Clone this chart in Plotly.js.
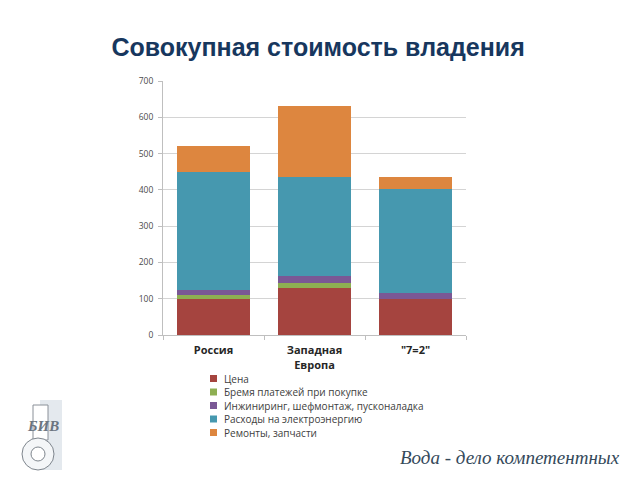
<!DOCTYPE html>
<html>
<head>
<meta charset="utf-8">
<script src="https://cdn.plot.ly/plotly-3.0.1.min.js"></script>
<style>html,body{margin:0;padding:0;background:#fff;}#chart{width:640px;height:480px;}</style>
</head>
<body>
<div id="chart"></div>
<script>
const categories = ["Россия", "Западная<br>Европа", "\"7=2\""];
const seriesNames = ["Цена", "Бремя платежей при покупке", "Инжиниринг, шефмонтаж, пусконаладка", "Расходы на электроэнергию", "Ремонты, запчасти"];
const price = [100, 130, 100];
const burden = [10, 14, 0];
const engineering = [15, 19, 17];
const electricity = [325, 272, 286];
const repairs = [70, 195, 32];
const colors = ["#A5443F", "#8EAF52", "#7A5895", "#4698AF", "#DD863F"];
const yTicks = [0, 100, 200, 300, 400, 500, 600, 700];

const values = [price, burden, engineering, electricity, repairs];
const traces = values.map((v, i) => ({
  type: "bar",
  x: categories,
  y: v,
  name: seriesNames[i],
  marker: {color: colors[i], line: {width: 0}},
  hoverinfo: "name+y"
}));

const PL = 163, PR = 466, PT = 81, PB = 335;
const px = x => (x - PL) / (PR - PL);
const py = y => (PB - y) / (PB - PT);

const SANS = "Open Sans, Liberation Sans, Arial, sans-serif";

// custom compact legend (Excel style): square + label per series
const LEG_X = 210, LEG_Y0 = 378.5, LEG_DY = 13.5, SQ = 7;
const legendAnnotations = seriesNames.map((n, i) => ({
  text: n, xref: "paper", yref: "paper",
  x: px(LEG_X + SQ + 5), y: py(LEG_Y0 + i * LEG_DY), xanchor: "left", yanchor: "middle",
  align: "left", showarrow: false,
  font: {size: 10, color: "#404040", family: SANS}
}));
const legendShapes = seriesNames.map((n, i) => ({
  type: "rect", xref: "paper", yref: "paper",
  x0: px(LEG_X), x1: px(LEG_X + SQ),
  y0: py(LEG_Y0 + i * LEG_DY + SQ / 2), y1: py(LEG_Y0 + i * LEG_DY - SQ / 2),
  fillcolor: colors[i], line: {width: 0}
}));

const layout = {
  width: 640, height: 480,
  margin: {l: PL, r: 640 - PR, t: PT, b: 480 - PB},
  paper_bgcolor: "#ffffff",
  plot_bgcolor: "#ffffff",
  barmode: "stack",
  bargap: 0.285,
  showlegend: false,
  font: {family: SANS, color: "#404040"},
  title: {
    text: "<b>Совокупная стоимость владения</b>",
    x: 0.497, xref: "container", xanchor: "center",
    y: 1 - 47 / 480, yanchor: "middle", yref: "container",
    font: {family: "Liberation Sans, Arial, sans-serif", size: 25, color: "#17375E"}
  },
  xaxis: {
    type: "category",
    showgrid: false,
    showline: true, linecolor: "#BFBFBF", linewidth: 1,
    ticks: "outside", tickson: "boundaries", ticklen: 4, tickcolor: "#BFBFBF",
    ticklabelstandoff: 5,
    tickfont: {size: 11, color: "#262626", family: SANS, weight: "bold"},
    fixedrange: true
  },
  yaxis: {
    range: [0, 700],
    tickvals: yTicks,
    ticktext: yTicks.map(String),
    showgrid: true, gridcolor: "#D4D4D4", gridwidth: 1,
    showline: true, linecolor: "#BFBFBF", linewidth: 1,
    ticks: "outside", ticklen: 4, tickcolor: "#BFBFBF",
    ticklabelstandoff: 3,
    tickfont: {size: 8.5, color: "#4A4A4A", family: SANS},
    zeroline: false,
    fixedrange: true
  },
  annotations: legendAnnotations.concat([
    {
      text: "Вода - дело компетентных", xref: "paper", yref: "paper",
      x: px(510), y: py(457), xanchor: "center", yanchor: "middle",
      showarrow: false,
      font: {size: 19, color: "#34495A", family: "Liberation Serif, serif", style: "italic"}
    },
    {
      text: "<i><b>БИВ</b></i>", xref: "paper", yref: "paper",
      x: px(43), y: py(426), xanchor: "center", yanchor: "middle",
      showarrow: false,
      font: {size: 15, color: "#6B7580", family: "Liberation Serif, serif"}
    }
  ]),
  shapes: legendShapes.concat([
    {type: "rect", xref: "paper", yref: "paper", x0: px(40), x1: px(62), y0: py(470), y1: py(400),
     fillcolor: "#E4E9EE", line: {width: 0}, layer: "below"},
    {type: "rect", xref: "paper", yref: "paper", x0: px(33), x1: px(48), y0: py(440), y1: py(405),
     fillcolor: "#ffffff", line: {color: "#8A9098", width: 1}},
    {type: "circle", xref: "paper", yref: "paper", x0: px(22), x1: px(54), y0: py(470), y1: py(438),
     fillcolor: "#F4F6F8", line: {color: "#7E858D", width: 1}},
    {type: "circle", xref: "paper", yref: "paper", x0: px(31), x1: px(45), y0: py(461), y1: py(447),
     fillcolor: "#ffffff", line: {color: "#7E858D", width: 1}}
  ])
};

Plotly.newPlot("chart", traces, layout, {displayModeBar: false, staticPlot: true});
</script>
</body>
</html>
